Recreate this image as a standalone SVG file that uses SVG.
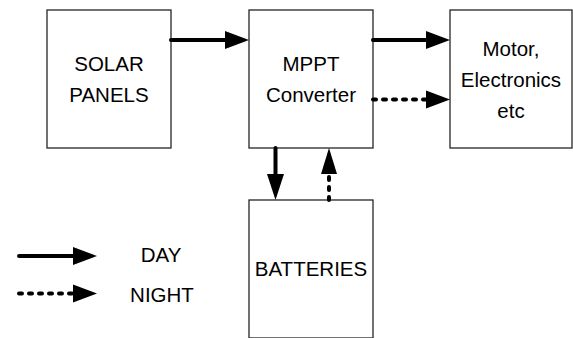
<svg xmlns="http://www.w3.org/2000/svg" width="573" height="338" viewBox="0 0 573 338">
<defs>
<style>
.box{fill:#fff;stroke:#262626;stroke-width:1.3}
.t{font-family:"Liberation Sans",Arial,sans-serif;font-size:20.5px;fill:#000;text-anchor:middle}
.c{fill:none;stroke:#000;stroke-width:4;stroke-linecap:round}
.d{stroke-dasharray:3 7}
.h{fill:#000}
</style>
</defs>
<rect width="573" height="338" fill="#fff"/>
<g id="solar">
<rect class="box" x="47" y="10" width="124" height="138"/>
<text class="t" x="109" y="71">SOLAR</text>
<text class="t" x="109" y="102">PANELS</text>
</g>
<g id="mppt">
<rect class="box" x="249" y="10" width="124" height="138"/>
<text class="t" x="311" y="71">MPPT</text>
<text class="t" x="311" y="102">Converter</text>
</g>
<g id="motor">
<rect class="box" x="450" y="10" width="122" height="138"/>
<text class="t" x="511" y="56">Motor,</text>
<text class="t" x="511" y="87">Electronics</text>
<text class="t" x="511" y="118">etc</text>
</g>
<g id="batteries">
<rect class="box" x="249" y="200" width="124" height="138"/>
<text class="t" x="311" y="276">BATTERIES</text>
</g>
<g id="connectors">
<line class="c" x1="171" y1="40" x2="230" y2="40"/>
<path class="h" d="M225,31 L249,40 L225,49 Z"/>
<line class="c" x1="373" y1="40" x2="430" y2="40"/>
<path class="h" d="M426,31 L450,40 L426,49 Z"/>
<line class="c d" x1="373" y1="99.5" x2="426" y2="99.5"/>
<path class="h" d="M426,90.5 L450,99.5 L426,108.5 Z"/>
<line class="c" x1="275.5" y1="148" x2="275.5" y2="180"/>
<path class="h" d="M267,174 L275.5,200 L284,174 Z"/>
<line class="c d" x1="329" y1="200" x2="329" y2="174"/>
<path class="h" d="M321,174 L329,148 L337,174 Z"/>
</g>
<g id="legend">
<line class="c" x1="19" y1="256" x2="78" y2="256"/>
<path class="h" d="M73,247 L97,256 L73,265 Z"/>
<line class="c d" x1="19" y1="293.5" x2="73" y2="293.5"/>
<path class="h" d="M73,284.5 L97,293.5 L73,302.5 Z"/>
<text class="t" x="161" y="262">DAY</text>
<text class="t" x="162" y="302">NIGHT</text>
</g>
</svg>
